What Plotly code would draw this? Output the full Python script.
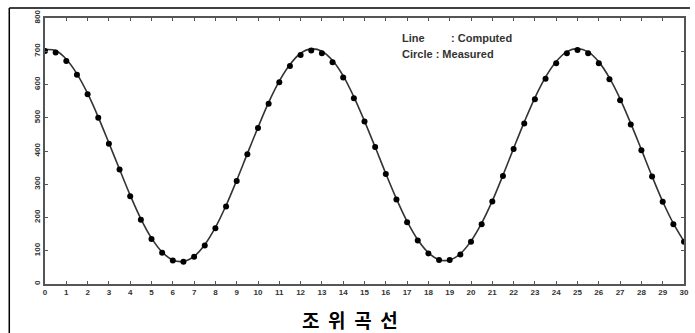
import plotly.graph_objects as go

hours = [i * 0.5 for i in range(61)]

measured = [701, 696, 671, 629, 571, 500, 422, 344, 264, 193, 135, 94, 71, 67,
            82, 116, 168, 233, 310,
            390, 469, 542, 607, 656, 689, 702, 694, 667, 621, 559, 489, 412,
            331, 254, 186, 131, 92, 72, 72, 89,
            127, 180, 248, 325,
            406, 483, 556, 617, 664, 694, 704, 694, 664, 616, 553, 480, 402,
            323, 247, 180, 127]

computed = [705, 702, 676, 632, 573, 502, 424, 345, 267, 196, 138, 96, 72, 68,
            83, 118, 170, 236, 312,
            392, 471, 546, 610, 660, 694, 707, 700, 672, 626, 563, 490, 412,
            332, 256, 188, 133, 94, 73, 72, 91,
            129, 183, 250, 327,
            408, 487, 560, 622, 669, 699, 708, 698, 668, 620, 557, 483, 404,
            324, 248, 182, 128]

x_ticks = list(range(0, 31))
y_ticks = list(range(0, 801, 100))

W, H = 695, 333
L, R, T, B = 45, 6, 18, 49
pw, ph = W - L - R, H - T - B

def px(xp):
    return (xp - L) / pw

def py(yp):
    return (H - B - yp) / ph

fig = go.Figure()
fig.add_trace(go.Scatter(x=hours, y=computed, mode="lines", line_shape="spline",
                         line=dict(color="#333333", width=1.6), name="Computed"))
fig.add_trace(go.Scatter(x=hours, y=measured, mode="markers",
                         marker=dict(color="black", size=6, symbol="circle"), name="Measured"))

axis_common = dict(showgrid=False, zeroline=False, showline=True, mirror="ticks",
                   linecolor="#555555", linewidth=1.5, ticks="inside", ticklen=3,
                   tickcolor="#555555", tickwidth=1,
                   tickfont=dict(family="Arial, Liberation Sans", size=8, color="#333333"))

fig.update_xaxes(range=[0, 30], tickvals=x_ticks, ticktext=[f"<b>{v}</b>" for v in x_ticks], **axis_common)
fig.update_yaxes(range=[0, 800], tickvals=y_ticks, ticktext=[f"<b>{v}</b>" for v in y_ticks],
                 tickangle=-90, **axis_common)

title_text = "\u00a0\u00a0".join(["조", "위", "곡", "선"])

fig.update_layout(
    width=W, height=H, margin=dict(l=L, r=R, t=T, b=B),
    paper_bgcolor="white", plot_bgcolor="white", showlegend=False,
    font=dict(family="Arial, Liberation Sans"),
    shapes=[
        dict(type="line", xref="paper", yref="paper", x0=px(9), x1=px(W), y0=py(8), y1=py(8),
             line=dict(color="black", width=1.5)),
        dict(type="line", xref="paper", yref="paper", x0=px(9), x1=px(9), y0=py(8), y1=py(H),
             line=dict(color="black", width=1.5)),
    ],
    annotations=[
        dict(text="<b>Line</b>", xref="paper", yref="paper", x=px(403), y=py(38),
             xanchor="left", yanchor="middle", showarrow=False,
             font=dict(size=11, color="#333333")),
        dict(text="<b>: Computed</b>", xref="paper", yref="paper", x=px(452), y=py(38),
             xanchor="left", yanchor="middle", showarrow=False,
             font=dict(size=11, color="#333333")),
        dict(text="<b>Circle : Measured</b>", xref="paper", yref="paper", x=px(403), y=py(54),
             xanchor="left", yanchor="middle", showarrow=False,
             font=dict(size=11, color="#333333")),
        dict(text=f"<b>{title_text}</b>", xref="paper", yref="paper", x=px(352), y=py(319),
             xanchor="center", yanchor="middle", showarrow=False,
             font=dict(family="Noto Sans CJK KR", size=19, color="black")),
    ],
)

fig.write_html("out.html", config={"displayModeBar": False},
               post_script="document.body.style.margin='0';document.body.style.overflow='hidden';")
